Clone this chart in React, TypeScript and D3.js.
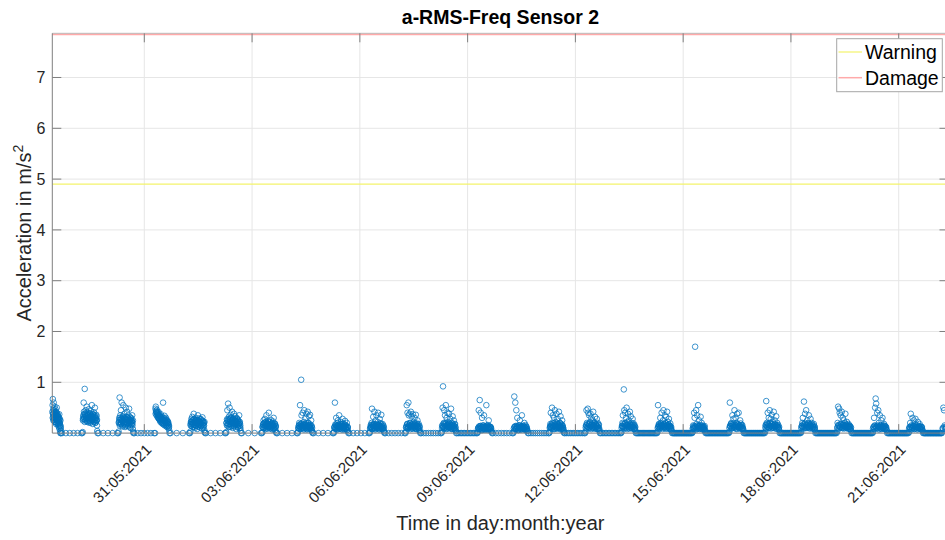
import React from "react";
import * as d3 from "d3";

// ---------- data ----------
const dayDates = [
  "2021-05-28", "2021-05-29", "2021-05-30", "2021-05-31", "2021-06-01", "2021-06-02",
  "2021-06-03", "2021-06-04", "2021-06-05", "2021-06-06", "2021-06-07", "2021-06-08",
  "2021-06-09", "2021-06-10", "2021-06-11", "2021-06-12", "2021-06-13", "2021-06-14",
  "2021-06-15", "2021-06-16", "2021-06-17", "2021-06-18", "2021-06-19", "2021-06-20",
  "2021-06-21", "2021-06-22",
];
// first / last daytime reading (hour of day)
const dayStartHour = [10.6, 6.6, 6.6, 7.2, 6.5, 6.5, 6.6, 6.5, 6.5, 6.5, 6.5, 6.5, 6.5, 6.5, 6.5, 6.5, 6.5, 6.6, 6.0, 6.5, 6.5, 6.5, 6.5, 6.5, 6.5, 5.4];
const dayEndHour = [16.4, 16.8, 16.8, 16.9, 16.6, 16.6, 16.3, 16.5, 16.4, 16.5, 16.4, 16.4, 16.3, 16.3, 16.5, 16.4, 16.4, 16.6, 15.0, 16.5, 16.5, 16.4, 16.5, 16.3, 16.3, 7.6];
// zero readings during the night following each day
const nightZeroCount = [6, 5, 7, 4, 5, 4, 5, 5, 6, 7, 9, 14, 8, 10, 12, 14, 24, 30, 30, 30, 30, 30, 30, 30, 30, 0];

// daytime readings (spread)
const may28 = [0.42, 0.55, 0.67, 0.38, 0.31, 0.48, 0.6, 0.26, 0.44, 0.35, 0.52, 0.29, 0.4, 0.22, 0.47, 0.33, 0.37, 0.18, 0.41, 0.27, 0.5, 0.24, 0.34, 0.3, 0.2, 0.36, 0.28, 0.15, 0.32, 0.23, 0.12, 0.26, 0.19, 0.08, 0.21, 0.14, 0.03, 0, 0.1, 0, 0.05];
const may29 = [0, 0.02, 0.28, 0.35, 0.6, 0.42, 0.31, 0.87, 0.38, 0.25, 0.45, 0.33, 0.29, 0.52, 0.36, 0.22, 0.4, 0.3, 0.27, 0.47, 0.34, 0.24, 0.39, 0.31, 0.2, 0.43, 0.28, 0.35, 0.55, 0.26, 0.32, 0.18, 0.37, 0.29, 0.41, 0.23, 0.33, 0.5, 0.27, 0.3, 0.21, 0.36, 0.25, 0.15, 0.04, 0];
const may30 = [0, 0.03, 0.22, 0.3, 0.7, 0.18, 0.35, 0.26, 0.45, 0.2, 0.6, 0.28, 0.15, 0.33, 0.24, 0.55, 0.19, 0.3, 0.38, 0.22, 0.12, 0.27, 0.5, 0.17, 0.32, 0.25, 0.42, 0.2, 0.29, 0.14, 0.35, 0.23, 0.48, 0.18, 0.26, 0.31, 0.1, 0.22, 0.28, 0.16, 0.24, 0.35, 0.2, 0.08, 0.02, 0];
const may31 = [0, 0.48, 0.52, 0.44, 0.4, 0.46, 0.38, 0.42, 0.35, 0.3, 0.41, 0.28, 0.36, 0.25, 0.33, 0.22, 0.37, 0.3, 0.2, 0.27, 0.32, 0.18, 0.6, 0.25, 0.29, 0.16, 0.34, 0.23, 0.28, 0.14, 0.3, 0.2, 0.26, 0.12, 0.24, 0.18, 0.22, 0.1, 0.15, 0.05, 0];
const jun01 = [0, 0.03, 0.15, 0.22, 0.28, 0.18, 0.32, 0.12, 0.25, 0.2, 0.38, 0.16, 0.27, 0.1, 0.23, 0.3, 0.14, 0.21, 0.26, 0.08, 0.19, 0.35, 0.24, 0.13, 0.29, 0.17, 0.22, 0.11, 0.27, 0.2, 0.15, 0.25, 0.09, 0.31, 0.18, 0.23, 0.14, 0.2, 0.06, 0.02, 0];
const jun02 = [0, 0.02, 0.2, 0.27, 0.45, 0.15, 0.58, 0.24, 0.32, 0.18, 0.5, 0.28, 0.12, 0.36, 0.22, 0.3, 0.17, 0.42, 0.25, 0.1, 0.29, 0.2, 0.38, 0.14, 0.26, 0.33, 0.19, 0.23, 0.08, 0.3, 0.21, 0.16, 0.27, 0.12, 0.24, 0.18, 0.35, 0.1, 0.22, 0.15, 0.05, 0];
const jun03 = [0, 0.02, 0.12, 0.18, 0.25, 0.1, 0.2, 0.28, 0.15, 0.08, 0.22, 0.35, 0.14, 0.19, 0.11, 0.24, 0.17, 0.4, 0.13, 0.21, 0.09, 0.18, 0.26, 0.12, 0.16, 0.2, 0.07, 0.23, 0.14, 0.3, 0.1, 0.17, 0.19, 0.06, 0.13, 0.02, 0];
const jun04 = [0, 0.03, 0.1, 0.15, 0.2, 0.12, 0.55, 0.08, 0.18, 1.05, 0.35, 0.14, 0.11, 0.4, 0.17, 0.09, 0.22, 0.45, 0.13, 0.16, 0.3, 0.1, 0.19, 0.38, 0.12, 0.07, 0.42, 0.15, 0.2, 0.33, 0.11, 0.14, 0.36, 0.17, 0.09, 0.25, 0.13, 0.05, 0.02, 0];
const jun05 = [0, 0.02, 0.12, 0.6, 0.17, 0.1, 0.3, 0.14, 0.08, 0.2, 0.25, 0.11, 0.16, 0.35, 0.13, 0.09, 0.18, 0.22, 0.12, 0.15, 0.07, 0.28, 0.14, 0.19, 0.1, 0.13, 0.17, 0.24, 0.08, 0.15, 0.11, 0.2, 0.06, 0.12, 0.03, 0];
const jun06 = [0, 0.02, 0.1, 0.16, 0.12, 0.2, 0.48, 0.08, 0.15, 0.32, 0.11, 0.18, 0.42, 0.14, 0.09, 0.25, 0.13, 0.35, 0.17, 0.1, 0.22, 0.4, 0.12, 0.16, 0.07, 0.28, 0.14, 0.19, 0.11, 0.36, 0.13, 0.08, 0.18, 0.1, 0.15, 0.05, 0.02, 0];
const jun07 = [0, 0.03, 0.12, 0.55, 0.18, 0.4, 0.1, 0.6, 0.35, 0.15, 0.38, 0.2, 0.12, 0.42, 0.16, 0.33, 0.09, 0.18, 0.37, 0.14, 0.22, 0.11, 0.3, 0.17, 0.13, 0.36, 0.08, 0.19, 0.15, 0.25, 0.12, 0.1, 0.18, 0.06, 0.14, 0.03, 0];
const jun08 = [0, 0.02, 0.15, 0.5, 0.92, 0.12, 0.2, 0.45, 0.1, 0.35, 0.18, 0.55, 0.14, 0.3, 0.09, 0.4, 0.16, 0.22, 0.12, 0.38, 0.19, 0.11, 0.28, 0.15, 0.48, 0.08, 0.2, 0.13, 0.33, 0.17, 0.1, 0.25, 0.14, 0.07, 0.18, 0.12, 0.04, 0];
const jun09 = [0, 0.02, 0.1, 0.45, 0.08, 0.65, 0.14, 0.4, 0.12, 0.06, 0.3, 0.11, 0.15, 0.09, 0.35, 0.13, 0.07, 0.12, 0.1, 0.55, 0.14, 0.08, 0.16, 0.11, 0.25, 0.09, 0.13, 0.06, 0.12, 0.1, 0.03, 0];
const jun10 = [0, 0.03, 0.72, 0.12, 0.6, 0.08, 0.45, 0.14, 0.3, 0.1, 0.06, 0.15, 0.11, 0.25, 0.09, 0.13, 0.07, 0.35, 0.12, 0.1, 0.14, 0.08, 0.2, 0.11, 0.16, 0.06, 0.12, 0.09, 0.04, 0];
const jun11 = [0, 0.02, 0.12, 0.18, 0.4, 0.1, 0.15, 0.5, 0.2, 0.35, 0.13, 0.08, 0.3, 0.17, 0.45, 0.11, 0.22, 0.14, 0.38, 0.09, 0.19, 0.28, 0.12, 0.16, 0.42, 0.1, 0.2, 0.14, 0.33, 0.07, 0.18, 0.12, 0.25, 0.15, 0.1, 0.05, 0.02, 0];
const jun12 = [0, 0.03, 0.15, 0.45, 0.2, 0.12, 0.48, 0.4, 0.18, 0.35, 0.1, 0.22, 0.38, 0.14, 0.3, 0.17, 0.11, 0.25, 0.42, 0.16, 0.2, 0.13, 0.32, 0.09, 0.18, 0.15, 0.28, 0.12, 0.2, 0.08, 0.16, 0.1, 0.04, 0];
const jun13 = [0, 0.02, 0.14, 0.2, 0.35, 0.12, 0.86, 0.45, 0.18, 0.4, 0.1, 0.3, 0.5, 0.16, 0.22, 0.38, 0.13, 0.25, 0.09, 0.42, 0.17, 0.33, 0.11, 0.2, 0.15, 0.28, 0.12, 0.19, 0.08, 0.16, 0.1, 0.05, 0];
const jun14 = [0, 0.03, 0.55, 0.12, 0.18, 0.15, 0.1, 0.3, 0.2, 0.14, 0.4, 0.16, 0.11, 0.25, 0.45, 0.18, 0.13, 0.35, 0.2, 0.09, 0.32, 0.15, 0.42, 0.12, 0.22, 0.17, 0.28, 0.1, 0.14, 0.19, 0.07, 0.12, 0.04, 0];
const jun15 = [0, 0.02, 0.15, 0.1, 0.4, 0.3, 1.7, 0.12, 0.45, 0.18, 0.35, 0.08, 0.55, 0.14, 0.25, 0.11, 0.16, 0.32, 0.09, 0.2, 0.13, 0.15, 0.1, 0.12, 0.07, 0.14, 0.03, 0];
const jun16 = [0, 0.02, 0.6, 0.14, 0.18, 0.2, 0.1, 0.35, 0.15, 0.28, 0.12, 0.45, 0.16, 0.3, 0.09, 0.2, 0.38, 0.13, 0.17, 0.4, 0.11, 0.15, 0.25, 0.19, 0.12, 0.08, 0.16, 0.1, 0.05, 0];
const jun17 = [0, 0.03, 0.16, 0.63, 0.2, 0.12, 0.4, 0.18, 0.3, 0.1, 0.45, 0.14, 0.28, 0.19, 0.36, 0.11, 0.22, 0.15, 0.42, 0.13, 0.25, 0.17, 0.09, 0.33, 0.14, 0.2, 0.12, 0.16, 0.1, 0.06, 0];
const jun18 = [0, 0.02, 0.14, 0.2, 0.3, 0.12, 0.62, 0.18, 0.38, 0.1, 0.45, 0.16, 0.25, 0.13, 0.2, 0.35, 0.11, 0.17, 0.28, 0.14, 0.2, 0.09, 0.15, 0.12, 0.18, 0.1, 0.06, 0];
const jun19 = [0, 0.03, 0.2, 0.52, 0.15, 0.48, 0.4, 0.12, 0.35, 0.18, 0.42, 0.1, 0.3, 0.16, 0.25, 0.13, 0.2, 0.38, 0.11, 0.17, 0.22, 0.14, 0.09, 0.18, 0.12, 0.15, 0.08, 0.12, 0.05, 0];
const jun20 = [0, 0.02, 0.12, 0.3, 0.15, 0.5, 0.68, 0.58, 0.1, 0.4, 0.14, 0.45, 0.2, 0.12, 0.35, 0.16, 0.09, 0.25, 0.13, 0.3, 0.11, 0.15, 0.18, 0.08, 0.14, 0.1, 0.12, 0.06, 0];
const jun21 = [0, 0.02, 0.12, 0.2, 0.38, 0.15, 0.1, 0.3, 0.14, 0.25, 0.08, 0.17, 0.28, 0.12, 0.16, 0.11, 0.22, 0.09, 0.14, 0.18, 0.1, 0.13, 0.07, 0.12, 0.04, 0];
const jun22 = [0.1, 0.5, 0.45, 0.15, 0.08, 0.12];

// daytime readings (dense core of each cluster)
const may28c = [0.3, 0.38, 0.25, 0.45, 0.33, 0.28, 0.4, 0.22, 0.35, 0.3, 0.42, 0.27, 0.36, 0.2, 0.32, 0.39, 0.24, 0.34, 0.29, 0.18, 0.31, 0.26, 0.37, 0.21, 0.28, 0.16, 0.25, 0.13];
const may29c = [0.25, 0.32, 0.28, 0.38, 0.22, 0.35, 0.3, 0.27, 0.4, 0.24, 0.33, 0.29, 0.36, 0.21, 0.31, 0.26, 0.38, 0.23, 0.34, 0.28, 0.3, 0.25, 0.37, 0.22, 0.32, 0.27, 0.35, 0.2, 0.29, 0.24, 0.33, 0.26];
const may30c = [0.2, 0.26, 0.15, 0.3, 0.22, 0.18, 0.28, 0.24, 0.13, 0.32, 0.2, 0.25, 0.17, 0.29, 0.22, 0.14, 0.27, 0.21, 0.31, 0.19, 0.24, 0.16, 0.28, 0.22, 0.12, 0.26, 0.2, 0.3, 0.18, 0.23, 0.15, 0.25];
const may31c = [0.38, 0.42, 0.35, 0.4, 0.32, 0.37, 0.3, 0.34, 0.28, 0.33, 0.26, 0.31, 0.24, 0.29, 0.22, 0.27, 0.2, 0.25, 0.23, 0.18, 0.26, 0.2, 0.24, 0.16, 0.22, 0.19, 0.14, 0.2, 0.17, 0.12];
const jun01c = [0.18, 0.22, 0.14, 0.25, 0.2, 0.16, 0.27, 0.12, 0.21, 0.24, 0.17, 0.26, 0.15, 0.2, 0.23, 0.13, 0.19, 0.25, 0.16, 0.22, 0.18, 0.28, 0.14, 0.21, 0.17, 0.24, 0.11, 0.2, 0.15, 0.22];
const jun02c = [0.2, 0.15, 0.25, 0.18, 0.28, 0.12, 0.22, 0.26, 0.17, 0.3, 0.14, 0.21, 0.24, 0.19, 0.27, 0.13, 0.23, 0.18, 0.25, 0.16, 0.22, 0.2, 0.28, 0.11, 0.24, 0.17, 0.21, 0.14, 0.19, 0.1];
const jun03c = [0.12, 0.16, 0.1, 0.19, 0.14, 0.21, 0.11, 0.17, 0.13, 0.2, 0.09, 0.15, 0.18, 0.12, 0.22, 0.14, 0.1, 0.17, 0.13, 0.19, 0.11, 0.16, 0.08, 0.15, 0.12, 0.18, 0.1, 0.14];
const jun04c = [0.1, 0.14, 0.08, 0.17, 0.12, 0.15, 0.09, 0.19, 0.11, 0.13, 0.16, 0.07, 0.12, 0.18, 0.1, 0.14, 0.08, 0.15, 0.11, 0.2, 0.09, 0.13, 0.16, 0.1, 0.12, 0.06, 0.14, 0.1];
const jun05c = [0.1, 0.13, 0.08, 0.16, 0.11, 0.14, 0.07, 0.12, 0.17, 0.09, 0.13, 0.1, 0.15, 0.08, 0.12, 0.18, 0.1, 0.14, 0.07, 0.11, 0.15, 0.09, 0.12, 0.06, 0.13, 0.1];
const jun06c = [0.09, 0.13, 0.11, 0.16, 0.08, 0.14, 0.12, 0.18, 0.1, 0.15, 0.07, 0.12, 0.17, 0.09, 0.13, 0.11, 0.16, 0.08, 0.14, 0.1, 0.19, 0.12, 0.09, 0.15, 0.11, 0.07, 0.13, 0.1];
const jun07c = [0.11, 0.15, 0.09, 0.18, 0.13, 0.1, 0.16, 0.12, 0.2, 0.08, 0.14, 0.17, 0.11, 0.13, 0.09, 0.16, 0.12, 0.19, 0.1, 0.14, 0.08, 0.15, 0.12, 0.17, 0.1, 0.13, 0.07, 0.11];
const jun08c = [0.1, 0.14, 0.12, 0.18, 0.09, 0.15, 0.11, 0.2, 0.13, 0.08, 0.16, 0.12, 0.17, 0.1, 0.14, 0.19, 0.11, 0.13, 0.09, 0.16, 0.12, 0.15, 0.08, 0.14, 0.1, 0.17, 0.11, 0.07];
const jun09c = [0.08, 0.11, 0.13, 0.07, 0.1, 0.14, 0.09, 0.12, 0.06, 0.11, 0.15, 0.08, 0.13, 0.1, 0.07, 0.12, 0.09, 0.14, 0.11, 0.06, 0.1, 0.13, 0.08, 0.12, 0.09, 0.05];
const jun10c = [0.09, 0.12, 0.07, 0.14, 0.1, 0.08, 0.13, 0.11, 0.06, 0.12, 0.15, 0.09, 0.11, 0.07, 0.13, 0.1, 0.12, 0.08, 0.14, 0.09, 0.11, 0.06, 0.1, 0.13, 0.08, 0.05];
const jun11c = [0.1, 0.14, 0.12, 0.17, 0.09, 0.15, 0.11, 0.19, 0.13, 0.08, 0.16, 0.12, 0.14, 0.1, 0.18, 0.11, 0.15, 0.09, 0.13, 0.2, 0.12, 0.1, 0.16, 0.08, 0.14, 0.11, 0.07];
const jun12c = [0.11, 0.15, 0.09, 0.18, 0.13, 0.1, 0.16, 0.12, 0.2, 0.14, 0.08, 0.17, 0.11, 0.13, 0.15, 0.09, 0.19, 0.12, 0.1, 0.16, 0.13, 0.08, 0.14, 0.11, 0.17, 0.07];
const jun13c = [0.1, 0.14, 0.12, 0.18, 0.09, 0.15, 0.11, 0.2, 0.13, 0.16, 0.08, 0.12, 0.17, 0.1, 0.14, 0.19, 0.11, 0.13, 0.15, 0.09, 0.12, 0.16, 0.1, 0.14, 0.08, 0.12];
const jun14c = [0.1, 0.13, 0.16, 0.09, 0.14, 0.11, 0.18, 0.12, 0.15, 0.08, 0.13, 0.17, 0.1, 0.14, 0.12, 0.19, 0.09, 0.15, 0.11, 0.13, 0.16, 0.08, 0.12, 0.14, 0.1, 0.07];
const jun15c = [0.09, 0.12, 0.08, 0.14, 0.1, 0.13, 0.07, 0.11, 0.15, 0.09, 0.12, 0.1, 0.14, 0.08, 0.11, 0.13, 0.09, 0.12, 0.07, 0.1, 0.13, 0.08, 0.11, 0.06];
const jun16c = [0.1, 0.14, 0.12, 0.17, 0.09, 0.15, 0.11, 0.19, 0.13, 0.1, 0.16, 0.12, 0.14, 0.08, 0.18, 0.11, 0.13, 0.15, 0.09, 0.12, 0.16, 0.1, 0.14, 0.11, 0.08];
const jun17c = [0.11, 0.15, 0.09, 0.18, 0.13, 0.1, 0.16, 0.12, 0.2, 0.14, 0.09, 0.17, 0.11, 0.13, 0.15, 0.1, 0.18, 0.12, 0.14, 0.09, 0.16, 0.11, 0.13, 0.08, 0.12];
const jun18c = [0.1, 0.14, 0.12, 0.17, 0.09, 0.15, 0.11, 0.2, 0.13, 0.16, 0.1, 0.12, 0.18, 0.11, 0.14, 0.09, 0.15, 0.12, 0.17, 0.1, 0.13, 0.11, 0.15, 0.08, 0.12];
const jun19c = [0.1, 0.13, 0.16, 0.09, 0.14, 0.11, 0.18, 0.12, 0.15, 0.1, 0.13, 0.17, 0.09, 0.14, 0.12, 0.16, 0.1, 0.13, 0.11, 0.15, 0.09, 0.12, 0.14, 0.08, 0.11];
const jun20c = [0.09, 0.12, 0.08, 0.14, 0.1, 0.13, 0.11, 0.15, 0.09, 0.12, 0.07, 0.13, 0.1, 0.14, 0.08, 0.11, 0.13, 0.09, 0.12, 0.1, 0.14, 0.08, 0.11, 0.06];
const jun21c = [0.08, 0.11, 0.09, 0.13, 0.07, 0.12, 0.1, 0.14, 0.08, 0.11, 0.13, 0.09, 0.12, 0.07, 0.1, 0.13, 0.09, 0.11, 0.08, 0.12, 0.1, 0.06];
const jun22c = [0.08, 0.12, 0.1];

const dayReadings = [
  may28, may29, may30, may31, jun01, jun02, jun03, jun04, jun05, jun06, jun07, jun08, jun09,
  jun10, jun11, jun12, jun13, jun14, jun15, jun16, jun17, jun18, jun19, jun20, jun21, jun22,
];
const coreReadings = [
  may28c, may29c, may30c, may31c, jun01c, jun02c, jun03c, jun04c, jun05c, jun06c, jun07c, jun08c, jun09c,
  jun10c, jun11c, jun12c, jun13c, jun14c, jun15c, jun16c, jun17c, jun18c, jun19c, jun20c, jun21c, jun22c,
];

const tickDates = ["2021-05-31", "2021-06-03", "2021-06-06", "2021-06-09", "2021-06-12", "2021-06-15", "2021-06-18", "2021-06-21"];
const yTicks = [1, 2, 3, 4, 5, 6, 7];
const xLimits = ["2021-05-28T10:32:00Z", "2021-06-22T09:16:00Z"];
const yLimits = [0, 7.87];
const warningLevel = 4.9;
const damageLevel = 7.85;

// ---------- helpers ----------
const HOUR = 3600 * 1000;
const dayStart = (s: string) => new Date(s + "T00:00:00Z").getTime();

type Pt = { t: Date; v: number };

function spread(vals: number[], base: number, s: number, e: number, pts: Pt[]) {
  vals.forEach((v, k) => {
    const h = vals.length > 1 ? s + (k * (e - s)) / (vals.length - 1) : s;
    pts.push({ t: new Date(base + h * HOUR), v });
  });
}

function buildPoints(): Pt[] {
  const pts: Pt[] = [];
  dayReadings.forEach((vals, i) => {
    const base = dayStart(dayDates[i]);
    const s = dayStartHour[i];
    const e = dayEndHour[i];
    spread(vals, base, s, e, pts);
    const core = coreReadings[i];
    const pad = (e - s) * 0.04;
    spread(core, base, s + pad, e - pad, pts);
    const nz = nightZeroCount[i];
    if (nz > 0 && i + 1 < dayDates.length) {
      const from = base + (e + 0.6) * HOUR;
      const to = dayStart(dayDates[i + 1]) + (dayStartHour[i + 1] - 0.6) * HOUR;
      for (let k = 0; k < nz; k++) {
        const t = nz > 1 ? from + (k * (to - from)) / (nz - 1) : (from + to) / 2;
        pts.push({ t: new Date(t), v: 0 });
      }
    }
  });
  return pts;
}

const FONT = "'Liberation Sans', Arial, Helvetica, sans-serif";

export default function App() {
  const W = 945;
  const H = 540;
  const left = 52.3;
  const right = 948.5;
  const top = 33.3;
  const bottom = 433.1;

  const x = d3
    .scaleUtc()
    .domain([new Date(xLimits[0]), new Date(xLimits[1])])
    .range([left, right]);
  const y = d3.scaleLinear().domain(yLimits).range([bottom, top]);

  const fmt = d3.utcFormat("%d:%m:%Y");
  const ticks = tickDates.map((d) => new Date(d + "T00:00:00Z"));
  const pts = buildPoints().filter((p) => p.t >= x.domain()[0] && p.t <= x.domain()[1]);

  const axisColor = "#7f7f7f";
  const gridColor = "#e6e6e6";
  const textColor = "#262626";
  const tickLen = 9;

  return (
    <svg
      width={W}
      height={H}
      style={{ position: "absolute", left: 0, top: 0, background: "#fff" }}
      fontFamily={FONT}
    >
      <rect x={0} y={0} width={W} height={H} fill="#fff" />
      {/* grid */}
      {yTicks.map((v) => (
        <line key={"gy" + v} x1={left} x2={right} y1={y(v)} y2={y(v)} stroke={gridColor} strokeWidth={1} />
      ))}
      {ticks.map((d, i) => (
        <line key={"gx" + i} x1={x(d)} x2={x(d)} y1={top} y2={bottom} stroke={gridColor} strokeWidth={1} />
      ))}

      {/* threshold lines */}
      <line x1={left} x2={right} y1={y(warningLevel)} y2={y(warningLevel)} stroke="#f3f36b" strokeWidth={1.2} />
      <line x1={left} x2={right} y1={y(damageLevel)} y2={y(damageLevel)} stroke="#ffaaaa" strokeWidth={2} />

      {/* scatter */}
      <g fill="none" stroke="#0072BD" strokeWidth={0.75}>
        {pts.map((p, i) => (
          <circle key={i} cx={x(p.t)} cy={y(p.v)} r={2.8} />
        ))}
      </g>

      {/* axes box */}
      <g stroke={axisColor} strokeWidth={1} fill="none">
        <line x1={left} x2={right} y1={bottom} y2={bottom} />
        <line x1={left} x2={right} y1={top} y2={top} stroke="#bdbdbd" />
        <line x1={left} x2={left} y1={top} y2={bottom} />
        <line x1={right} x2={right} y1={top} y2={bottom} />
        {yTicks.map((v) => (
          <g key={"ty" + v}>
            <line x1={left} x2={left + tickLen} y1={y(v)} y2={y(v)} />
            <line x1={right} x2={right - tickLen} y1={y(v)} y2={y(v)} />
          </g>
        ))}
        {ticks.map((d, i) => (
          <g key={"tx" + i}>
            <line x1={x(d)} x2={x(d)} y1={bottom} y2={bottom - tickLen} />
            <line x1={x(d)} x2={x(d)} y1={top} y2={top + tickLen} />
          </g>
        ))}
      </g>

      {/* y tick labels */}
      {yTicks.map((v) => (
        <text key={"yl" + v} x={left - 7} y={y(v) + 5.8} textAnchor="end" fontSize={16} fill={textColor}>
          {v}
        </text>
      ))}
      {/* x tick labels */}
      {ticks.map((d, i) => (
        <text
          key={"xl" + i}
          transform={`translate(${x(d) + 8},${bottom + 17.5}) rotate(-45)`}
          textAnchor="end"
          fontSize={15}
          fill={textColor}
        >
          {fmt(d)}
        </text>
      ))}

      {/* title */}
      <text x={(left + right) / 2} y={24} textAnchor="middle" fontSize={19.5} fontWeight="bold" fill="#000">
        a-RMS-Freq Sensor 2
      </text>
      {/* x label */}
      <text x={(left + right) / 2} y={529.5} textAnchor="middle" fontSize={20} fill={textColor}>
        Time in day:month:year
      </text>
      {/* y label */}
      <text transform={`translate(31,${(top + bottom) / 2}) rotate(-90)`} textAnchor="middle" fontSize={20} fill={textColor}>
        Acceleration in m/s
        <tspan dy={-8} fontSize={14}>2</tspan>
      </text>

      {/* legend */}
      <g>
        <rect x={836.7} y={38.7} width={105.6} height={53} fill="#fff" stroke="#a6a6a6" strokeWidth={1} />
        <line x1={838.5} x2={862} y1={52} y2={52} stroke="#f3f36b" strokeWidth={1.2} />
        <text x={865} y={59} fontSize={19.5} fill="#000">Warning</text>
        <line x1={838.5} x2={862} y1={77.7} y2={77.7} stroke="#ffaaaa" strokeWidth={1.5} />
        <text x={865} y={85} fontSize={19.5} fill="#000">Damage</text>
      </g>
    </svg>
  );
}
